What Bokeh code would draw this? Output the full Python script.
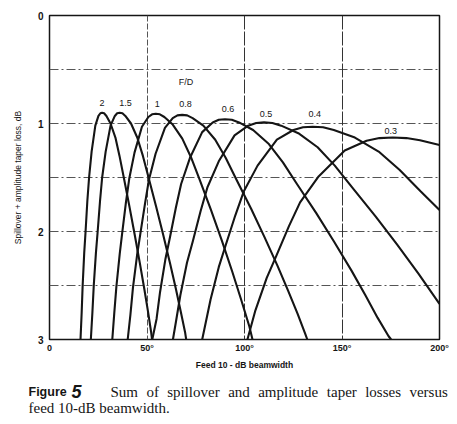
from bokeh.plotting import figure
from bokeh.models import Range1d, FixedTicker, Grid, Label, ColumnDataSource
from bokeh.layouts import column, row
from bokeh.core.properties import value
from bokeh.embed import file_html
from bokeh.resources import INLINE

# ---- data (feed 10-dB beamwidth in degrees, loss in dB) ----
fd_labels = ["2", "1.5", "1", "0.8", "0.6", "0.5", "0.4", "0.3"]

bw_fd2 = [15.9, 16.5, 17.0, 17.8, 18.5, 19.4, 20.3, 21.6, 23.5, 25.1, 26.1, 27.0, 28.0, 29.2, 31.3, 33.8, 35.9, 38.1, 41.0, 43.7, 46.4, 48.6, 50.5, 52.1, 52.6]
loss_fd2 = [3.0, 2.75, 2.5, 2.2, 2.0, 1.72, 1.5, 1.26, 1.02, 0.93, 0.905, 0.90, 0.905, 0.93, 1.0, 1.13, 1.30, 1.50, 1.77, 2.03, 2.30, 2.53, 2.74, 2.93, 3.0]

bw_fd15 = [21.2, 22.0, 22.7, 23.8, 24.7, 25.9, 27.0, 28.8, 31.3, 33.5, 34.7, 36.0, 37.4, 38.9, 41.8, 45.0, 47.9, 50.8, 54.7, 58.3, 61.9, 64.8, 67.3, 69.5, 70.1]
loss_fd15 = [3.0, 2.75, 2.5, 2.2, 2.0, 1.72, 1.5, 1.26, 1.02, 0.93, 0.905, 0.90, 0.905, 0.93, 1.0, 1.13, 1.30, 1.50, 1.77, 2.03, 2.30, 2.53, 2.74, 2.93, 3.0]

bw_fd1 = [32.2, 33.2, 34.3, 36.0, 37.3, 39.2, 40.9, 43.6, 47.4, 50.7, 52.6, 54.5, 56.6, 58.9, 63.2, 68.1, 72.5, 76.8, 82.8, 88.3, 93.7, 98.1, 102.5, 104.1]
loss_fd1 = [3.0, 2.76, 2.51, 2.21, 2.01, 1.73, 1.51, 1.27, 1.03, 0.94, 0.915, 0.91, 0.915, 0.94, 1.01, 1.14, 1.31, 1.51, 1.80, 2.08, 2.37, 2.62, 2.88, 3.0]

bw_fd08 = [40.1, 41.5, 42.8, 44.9, 46.6, 49.0, 51.0, 54.4, 59.2, 63.2, 65.6, 68.0, 70.6, 73.4, 78.9, 85.0, 90.4, 95.9, 103.4, 110.2, 117.0, 122.4, 127.2, 131.2, 132.2]
loss_fd08 = [3.0, 2.77, 2.52, 2.22, 2.02, 1.74, 1.52, 1.28, 1.04, 0.95, 0.925, 0.92, 0.925, 0.95, 1.02, 1.15, 1.32, 1.52, 1.79, 2.05, 2.32, 2.55, 2.76, 2.95, 3.0]

bw_fd06 = [52.7, 54.9, 56.7, 59.4, 61.7, 64.8, 67.5, 72.0, 78.3, 83.7, 86.8, 90.0, 93.5, 97.2, 104.4, 112.5, 119.7, 126.9, 136.8, 145.8, 154.8, 162.0, 168.3, 173.9, 175.2]
loss_fd06 = [3.0, 2.81, 2.56, 2.26, 2.06, 1.78, 1.56, 1.32, 1.08, 0.99, 0.965, 0.96, 0.965, 0.99, 1.06, 1.19, 1.36, 1.56, 1.83, 2.09, 2.36, 2.59, 2.80, 2.97, 3.0]

bw_fd05 = [63.3, 64.8, 67.1, 70.5, 73.5, 77.5, 81.0, 86.8, 94.9, 101.9, 106.0, 110.0, 114.3, 118.8, 127.6, 137.5, 146.3, 155.1, 167.2, 178.2, 189.2, 200.0]
loss_fd05 = [3.0, 2.84, 2.59, 2.29, 2.09, 1.81, 1.59, 1.35, 1.11, 1.02, 0.995, 0.99, 0.995, 1.02, 1.09, 1.22, 1.39, 1.59, 1.86, 2.12, 2.39, 2.67]

bw_fd04 = [78.3, 79.7, 82.6, 86.8, 90.3, 95.3, 99.6, 106.7, 116.6, 125.1, 130.0, 135.0, 140.3, 145.8, 156.6, 168.8, 179.6, 190.4, 200.0]
loss_fd04 = [3.0, 2.88, 2.63, 2.33, 2.13, 1.85, 1.63, 1.39, 1.15, 1.06, 1.035, 1.03, 1.035, 1.06, 1.13, 1.26, 1.43, 1.63, 1.80]

bw_fd03 = [101.5, 105.6, 111.4, 116.2, 122.8, 128.5, 138.0, 151.4, 162.6, 169.2, 176.0, 183.0, 190.0, 200.0]
loss_fd03 = [3.0, 2.73, 2.43, 2.23, 1.95, 1.73, 1.49, 1.25, 1.16, 1.135, 1.13, 1.135, 1.155, 1.20]

label_x = [26.9, 39.0, 55.2, 69.7, 91.5, 111.0, 136.0, 175.0]
label_y = [0.81, 0.81, 0.82, 0.815, 0.865, 0.91, 0.915, 1.07]

x_ticks = [0, 50, 100, 150, 200]
x_tick_labels = ["0", "50°", "100°", "150°", "200°"]
y_ticks = [0, 1, 2, 3]
y_grid = [0.5, 1.0, 1.5, 2.0, 2.5]

caption_words = ["Sum", "of", "spillover", "and", "amplitude", "taper", "losses", "versus"]
caption_word_x = [110, 145.9, 166.7, 227.7, 257.7, 326.3, 364.7, 408.9]

curves = [(bw_fd2, loss_fd2), (bw_fd15, loss_fd15), (bw_fd1, loss_fd1), (bw_fd08, loss_fd08),
          (bw_fd06, loss_fd06), (bw_fd05, loss_fd05), (bw_fd04, loss_fd04), (bw_fd03, loss_fd03)]

SANS = "Liberation Sans"
SERIF = "Liberation Serif"
INK = "#151515"

p = figure(width=449, height=374, output_backend="svg", toolbar_location=None,
           x_range=Range1d(0, 200), y_range=Range1d(3, 0),
           min_border_left=49, min_border_right=10, min_border_top=15, min_border_bottom=35)
p.background_fill_color = "white"
p.border_fill_color = "white"
p.outline_line_color = INK
p.outline_line_width = 1.5

# axes
p.xaxis.ticker = FixedTicker(ticks=x_ticks)
p.xaxis.major_label_overrides = {t: s for t, s in zip(x_ticks, x_tick_labels)}
p.yaxis.ticker = FixedTicker(ticks=y_ticks)
for ax in (p.xaxis[0], p.yaxis[0]):
    ax.axis_line_color = None
    ax.major_tick_line_color = None
    ax.minor_tick_line_color = None
    ax.major_tick_out = 0
    ax.major_tick_in = 0
    ax.minor_tick_out = 0
    ax.minor_tick_in = 0
    ax.major_label_text_font = SANS
    ax.major_label_text_font_style = "bold"
    ax.major_label_text_color = INK
p.xaxis.major_label_text_font_size = "9px"
p.xaxis.major_label_standoff = 3
p.yaxis.major_label_text_font_size = "10px"
p.yaxis.major_label_standoff = 6
p.xaxis.axis_label = "Feed 10 - dB beamwidth"
p.xaxis.axis_label_text_font = SANS
p.xaxis.axis_label_text_font_size = "8.5px"
p.xaxis.axis_label_text_font_style = "bold"
p.xaxis.axis_label_text_color = INK
p.xaxis.axis_label_standoff = 4
p.yaxis.axis_label = "Spillover + amplitude taper loss, dB"
p.yaxis.axis_label_text_font = SANS
p.yaxis.axis_label_text_font_size = "8.5px"
p.yaxis.axis_label_text_font_style = "normal"
p.yaxis.axis_label_text_color = INK
p.yaxis.axis_label_standoff = 12

# grids
p.ygrid.ticker = FixedTicker(ticks=y_grid)
p.ygrid.grid_line_color = "#555555"
p.ygrid.grid_line_dash = "9 3 2 3"
p.ygrid.grid_line_width = 1
p.xgrid.visible = False
g50 = Grid(dimension=0, ticker=FixedTicker(ticks=[50]), grid_line_color="#555555",
           grid_line_dash="6 2", grid_line_width=1)
g100 = Grid(dimension=0, ticker=FixedTicker(ticks=[100, 150]), grid_line_color="#333333",
            grid_line_dash="14 2", grid_line_width=1)
p.add_layout(g50)
p.add_layout(g100)

# curves
for bw, loss in curves:
    p.line(bw, loss, line_color=INK, line_width=2.1, line_join="round")

# curve labels
src = ColumnDataSource(dict(x=label_x, y=label_y, t=fd_labels))
p.text(x="x", y="y", text="t", source=src, text_font=value(SANS), text_font_size="9px",
       text_align="center", text_baseline="middle", text_color=INK)
p.add_layout(Label(x=70, y=0.62, text="F/D", text_font=SANS, text_font_size="9px",
                   text_align="center", text_baseline="middle", text_color=INK))

# caption figure below the chart (no axes, frame = whole canvas)
cap = figure(width=449, height=50, output_backend="svg", toolbar_location=None,
             x_axis_location=None, y_axis_location=None,
             x_range=Range1d(0, 449), y_range=Range1d(0, 50),
             min_border_left=0, min_border_right=0, min_border_top=0, min_border_bottom=0)
cap.grid.visible = False
cap.outline_line_color = None
cap.background_fill_color = "white"
cap.border_fill_color = "white"
cap.add_layout(Label(x=28, y=33, text="Figure", text_font=SANS, text_font_size="12.5px",
                     text_font_style="bold", text_baseline="alphabetic", text_color=INK))
cap.add_layout(Label(x=71, y=33, text="5", text_font=SANS, text_font_size="18px",
                     text_font_style="bold italic", text_baseline="alphabetic", text_color=INK))
for w, wx in zip(caption_words, caption_word_x):
    cap.add_layout(Label(x=wx, y=33, text=w, text_font=SERIF, text_font_size="15px",
                         text_baseline="alphabetic", text_color=INK))
cap.add_layout(Label(x=28, y=17, text="feed 10-dB beamwidth.",
                     text_font=SERIF, text_font_size="15px", text_baseline="alphabetic", text_color=INK))

layout = column(p, row(cap), spacing=0)
open("out.html", "w").write(file_html(layout, INLINE))
